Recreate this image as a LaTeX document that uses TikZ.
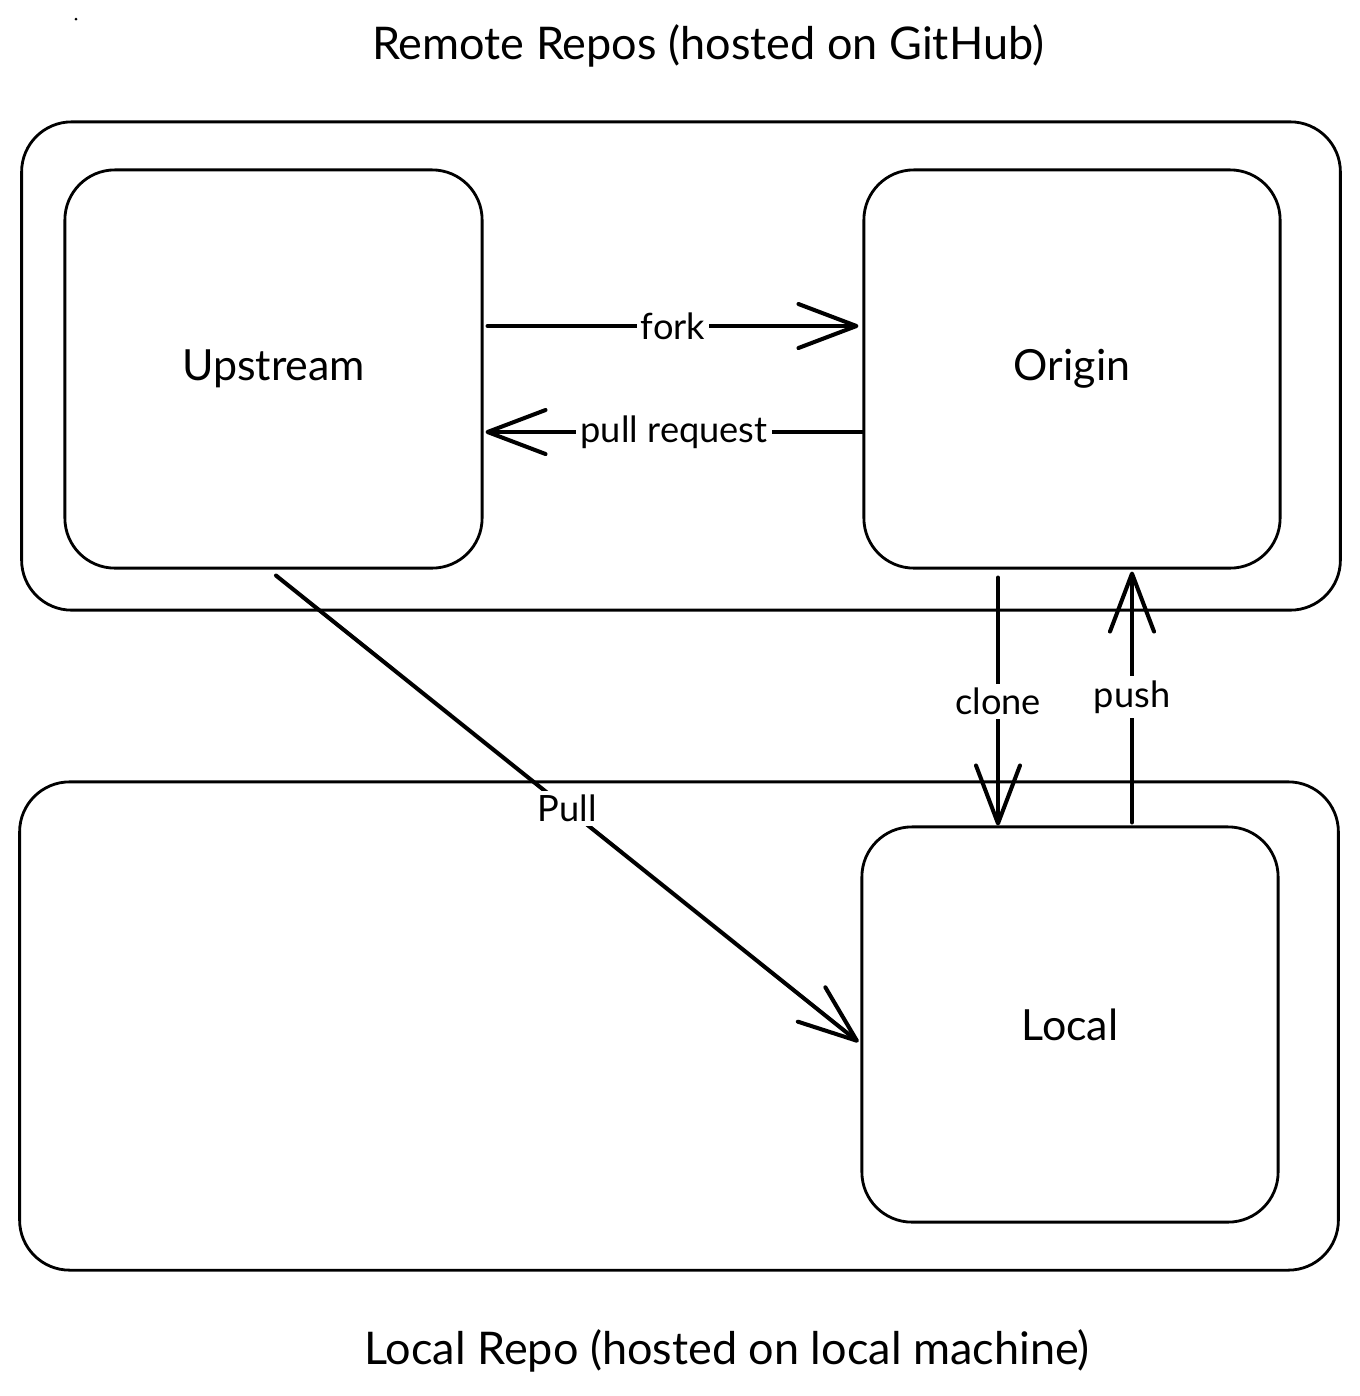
\documentclass[tikz,border=0pt]{standalone}
\usepackage{fontspec}
\setmainfont{Lato}
\usetikzlibrary{arrows.meta}
\tikzset{
  box/.style={draw=black, line width=0.8pt, rounded corners=0.5cm, rectangle, inner sep=0pt},
  outerbox/.style={box, rounded corners=0.5cm},
  boxlabel/.style={font=\fontsize{12.2}{15}\selectfont},
  title/.style={font=\fontsize{12.8}{16}\selectfont},
  arr/.style={draw=black, line width=1.15pt, line cap=round,
    -{Straight Barb[length=0.58cm, width=0.44cm, line width=1.15pt, round]}},
  lbl/.style={fill=white, inner sep=1.2pt, font=\fontsize{10.3}{12}\selectfont},
}
\begin{document}
\begin{tikzpicture}[x=0.01cm, y=-0.01cm]
\useasboundingbox (0,0) rectangle (1359,1396);
\fill[white] (0,0) rectangle (1359,1396);
\fill (76,19) circle (0.015cm);

% titles
\node[title] (ttop) at (708,46) {Remote Repos (hosted on GitHub)};
\node[title] (tbot) at (727,1351) {Local Repo (hosted on local machine)};

% inner boxes
\node[box, boxlabel, minimum width=4.17cm, minimum height=3.98cm] (upstream) at (273.5,369) {Upstream};
\node[box, boxlabel, minimum width=4.16cm, minimum height=3.98cm] (origin) at (1072,369) {Origin};
\node[box, boxlabel, minimum width=4.16cm, minimum height=3.95cm] (local) at (1070,1024.5) {Local};

% connectors
\draw[arr] ([xshift=0.04cm]upstream.east |- 0,326) -- ([xshift=-0.04cm]origin.west |- 0,326)
  node[lbl, midway] {fork};
\draw[arr] (origin.west |- 0,432) -- ([xshift=0.02cm]upstream.east |- 0,432)
  node[lbl, midway] {pull request};
\draw[arr] ([shift={(0.025cm,-0.06cm)}]upstream.south) -- ([shift={(-0.02cm,-0.175cm)}]local.west)
  node[lbl, midway] {Pull};
\draw[arr] ([yshift=-0.08cm]998,0 |- origin.south) -- (998,0 |- local.north)
  node[lbl, midway] {clone};
\draw[arr] ([yshift=0.03cm]1132,0 |- local.north) -- ([yshift=-0.02cm]1132,0 |- origin.south)
  node[lbl, midway] {push};

% outer boxes (drawn last, unfilled)
\node[outerbox, minimum width=13.18cm, minimum height=4.88cm] (remote) at (681,366) {};
\node[outerbox, minimum width=13.18cm, minimum height=4.88cm] (localrepo) at (679,1026) {};
\end{tikzpicture}
\end{document}
